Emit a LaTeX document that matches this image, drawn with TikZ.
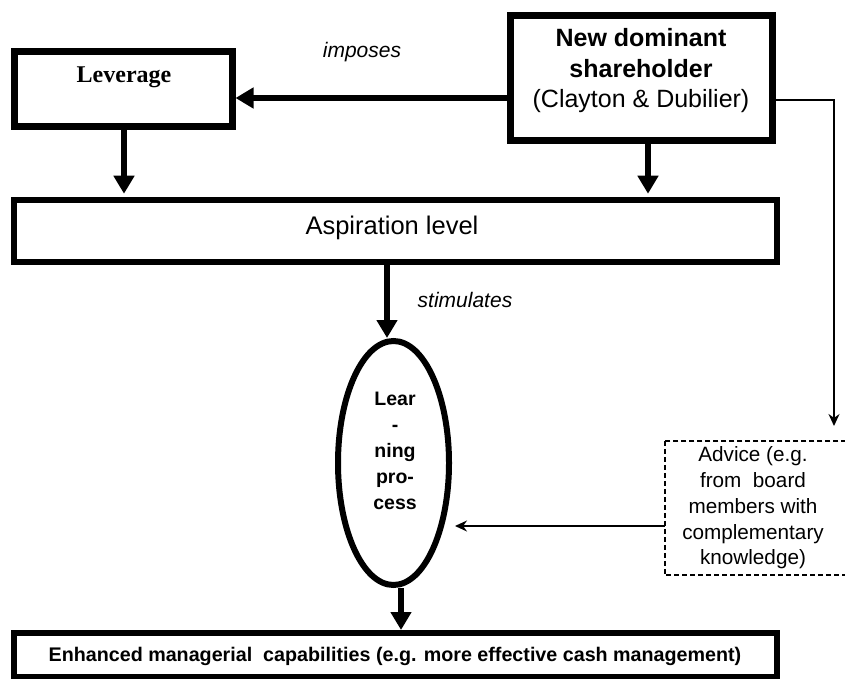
\documentclass[tikz,border=0pt]{standalone}
\usepackage{fontspec}
\setmainfont{Liberation Sans}
\newfontfamily\serifLS{Liberation Serif}
\usetikzlibrary{arrows.meta,shapes.geometric}
\begin{document}
\begin{tikzpicture}[x=1pt,y=-1pt,
  thickbox/.style={draw, line width=7pt, rectangle, inner sep=0pt},
  bigarrow/.style={line width=6pt, -{Triangle[length=18pt,width=20pt]}},
  thinarrow/.style={line width=1.5pt, -{Stealth[length=12pt,width=11pt]}},
  txt/.style={align=center, inner sep=0pt},
  verb/.style={font=\fontsize{21}{25}\selectfont\itshape, inner sep=0pt}]
\path[use as bounding box, fill=white] (0,0) rectangle (845,679);

% boxes
\node[thickbox, minimum width=217.5pt, minimum height=75pt] (lev) at (123.25,89.5) {};
\node[txt, font=\serifLS\bfseries\fontsize{24}{28}\selectfont] (levt) at (124,77) {Leverage};

\node[thickbox, minimum width=262.5pt, minimum height=125pt] (nds) at (641.25,78) {};
\node[txt, font=\fontsize{25}{30.5}\selectfont] (ndst) at (641,71) {\textbf{New dominant}\\\textbf{shareholder}\\(Clayton \& Dubilier)};

\node[thickbox, line width=6.5pt, minimum width=763pt, minimum height=62pt] (asp) at (395.5,231) {};
\node[txt, font=\fontsize{25.5}{30}\selectfont] (aspt) at (392,228) {Aspiration level};

\node[draw, ellipse, line width=6pt, minimum width=111pt, minimum height=244pt, inner sep=0pt] (ell) at (393.5,463) {};
\node[txt, font=\bfseries\fontsize{19.5}{26}\selectfont] (ellt) at (395,451) {Lear\\-\\ning\\pro-\\cess};

\node[txt, font=\fontsize{20.7}{25.7}\selectfont, minimum width=176pt, minimum height=134pt] (adv) at (753,508) {Advice (e.g.\\from\ \ board\\members with\\complementary\\knowledge)};
\draw[line width=1.5pt, dash pattern=on 5pt off 3pt] (adv.north west) rectangle ([xshift=40pt]adv.south east);

\node[thickbox, line width=6pt, minimum width=763pt, minimum height=44pt] (enh) at (395.5,655) {};
\node[txt, font=\bfseries\fontsize{19.7}{24}\selectfont] (enht) at (395,656) {Enhanced managerial\ \ capabilities (e.g. more effective cash management)};

% verb labels
\node[verb] (imp) at (362,52) {imposes};
\node[verb] (stim) at (465,300) {stimulates};

% connectors
\draw[bigarrow] (nds.west |- 0,98) -- (lev.east |- 0,98);
\draw[bigarrow, shorten >=3pt] (lev.south -| 124,0) -- (asp.north -| 124,0);
\draw[bigarrow, shorten >=3pt] (nds.south -| 648,0) -- (asp.north -| 648,0);
\draw[bigarrow] (asp.south -| 387,0) -- (ell.north -| 387,0);
\draw[bigarrow] (ell.south -| 401,0) -- (enh.north -| 401,0);

\coordinate (advl) at ([yshift=-18pt]adv.west);
\draw[thinarrow, shorten >=3pt] (advl) -- (advl -| ell.east);

\coordinate (advtop) at (834,441);
\draw[thinarrow, shorten >=15pt] ([yshift=-22pt]nds.east) -| (advtop);
\end{tikzpicture}
\end{document}
